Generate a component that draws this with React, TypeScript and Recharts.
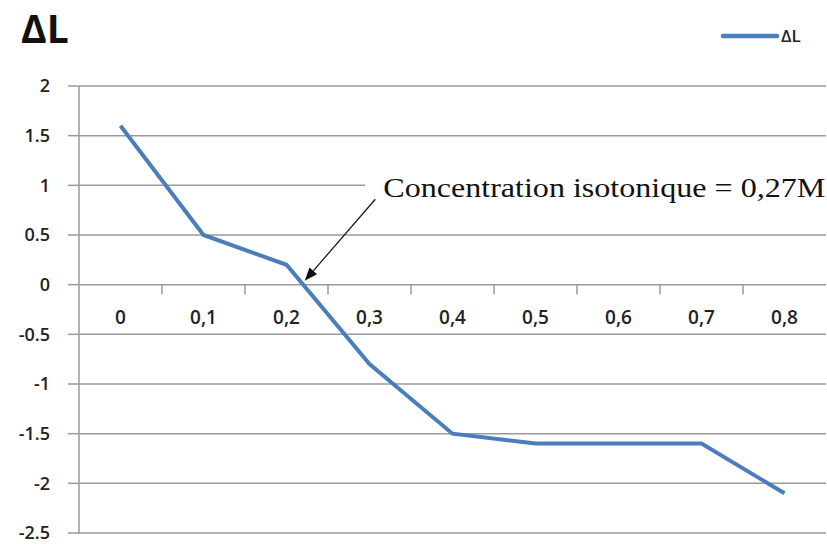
import React from "react";
import {
  LineChart,
  Line,
  XAxis,
  YAxis,
  CartesianGrid,
  Legend,
  ReferenceLine,
  ReferenceDot,
} from "recharts";

// concentrations (M) and measured length change
const concentrations = [0, 0.1, 0.2, 0.3, 0.4, 0.5, 0.6, 0.7, 0.8];
const deltaL = [1.6, 0.5, 0.2, -0.8, -1.5, -1.6, -1.6, -1.6, -2.1];
const xLabels = ["0", "0,1", "0,2", "0,3", "0,4", "0,5", "0,6", "0,7", "0,8"];
const xTickMarks = [0.05, 0.15, 0.25, 0.35, 0.45, 0.55, 0.65, 0.75];
const yTicks = [-2.5, -2, -1.5, -1, -0.5, 0, 0.5, 1, 1.5, 2];

const data = concentrations.map((c, i) => ({ c, dl: deltaL[i] }));

const axisGray = "#9a9a9a";
const labelFont = "'Open Sans', 'Noto Sans', sans-serif";

function ArrowNote(props: any) {
  const { x1, y1, x2, y2 } = props;
  const dx = x2 - x1;
  const dy = y2 - y1;
  const len = Math.sqrt(dx * dx + dy * dy);
  const ux = dx / len;
  const uy = dy / len;
  const head = 13;
  const bx = x2 - ux * head;
  const by = y2 - uy * head;
  const pts = `${x2},${y2} ${bx - uy * 5},${by + ux * 5} ${bx + uy * 5},${by - ux * 5}`;
  return (
    <g>
      <rect x={x1 - 10} y={y1 - 28} width={470} height={36} fill="#fff" />
      <line x1={x1} y1={y1} x2={bx} y2={by} stroke="#111" strokeWidth={1.2} />
      <polygon points={pts} fill="#111" />
      <text
        x={x1 + 8}
        y={y1 - 2}
        fontFamily="'Liberation Serif', 'Times New Roman', serif"
        fontSize={28}
        textLength={442}
        lengthAdjust="spacingAndGlyphs"
        fill="#111"
      >
        Concentration isotonique = 0,27M
      </text>
    </g>
  );
}

function LegendContent(props: any) {
  const item = props.payload?.[0];
  if (!item) return null;
  return (
    <div style={{ display: "flex", alignItems: "center", fontFamily: labelFont }}>
      <svg width={60} height={10}>
        <line x1={3} y1={5} x2={57} y2={5} stroke={item.color} strokeWidth={4.5} strokeLinecap="round" />
      </svg>
      <span style={{ fontSize: 17, fontWeight: 600, color: "#222", marginLeft: 1 }}>{item.value}</span>
    </div>
  );
}

export default function App() {
  return (
    <div style={{ position: "absolute", left: 0, top: 0, width: 827, height: 544, background: "#fff" }}>
      <div
        style={{
          position: "absolute",
          left: 21,
          top: 1,
          fontFamily: labelFont,
          fontWeight: 700,
          fontSize: 39,
          color: "#111",
        }}
      >
        ΔL
      </div>
      <LineChart width={827} height={544} data={data} margin={{ top: 86, right: 1, bottom: 11, left: 0 }}>
        <CartesianGrid vertical={false} stroke={axisGray} strokeWidth={1.5} />
        <XAxis dataKey="c" type="number" domain={[-0.05, 0.85]} hide />
        <YAxis
          domain={[-2.5, 2]}
          ticks={yTicks}
          width={79}
          tickSize={11}
          tickMargin={18}
          axisLine={{ stroke: axisGray, strokeWidth: 1.5 }}
          tickLine={{ stroke: axisGray, strokeWidth: 1.5 }}
          tick={{ fill: "#222", fontSize: 18, fontWeight: 600, fontFamily: labelFont }}
          interval={0}
        />
        <Legend
          layout="horizontal"
          verticalAlign="middle"
          align="center"
          content={<LegendContent />}
          wrapperStyle={{ top: 24, left: 720, width: 105 }}
        />
        {xTickMarks.map((t) => (
          <ReferenceLine
            key={"m" + t}
            segment={[
              { x: t, y: 0 },
              { x: t, y: -0.1 },
            ]}
            stroke={axisGray}
            strokeWidth={1.5}
          />
        ))}
        {concentrations.map((c, i) => (
          <ReferenceDot
            key={"l" + c}
            x={c}
            y={0}
            r={1}
            fill="none"
            stroke="none"
            label={{
              value: xLabels[i],
              position: "bottom",
              offset: 25,
              fill: "#222",
              fontSize: 19,
              fontWeight: 600,
              fontFamily: labelFont,
            }}
          />
        ))}
        <Line
          type="linear"
          dataKey="dl"
          name="ΔL"
          stroke="#4a7ebb"
          strokeWidth={4}
          dot={false}
          isAnimationActive={false}
        />
        <ReferenceLine
          segment={[
            { x: 0.307, y: 0.86 },
            { x: 0.222, y: 0.04 },
          ]}
          shape={<ArrowNote />}
        />
      </LineChart>
    </div>
  );
}
